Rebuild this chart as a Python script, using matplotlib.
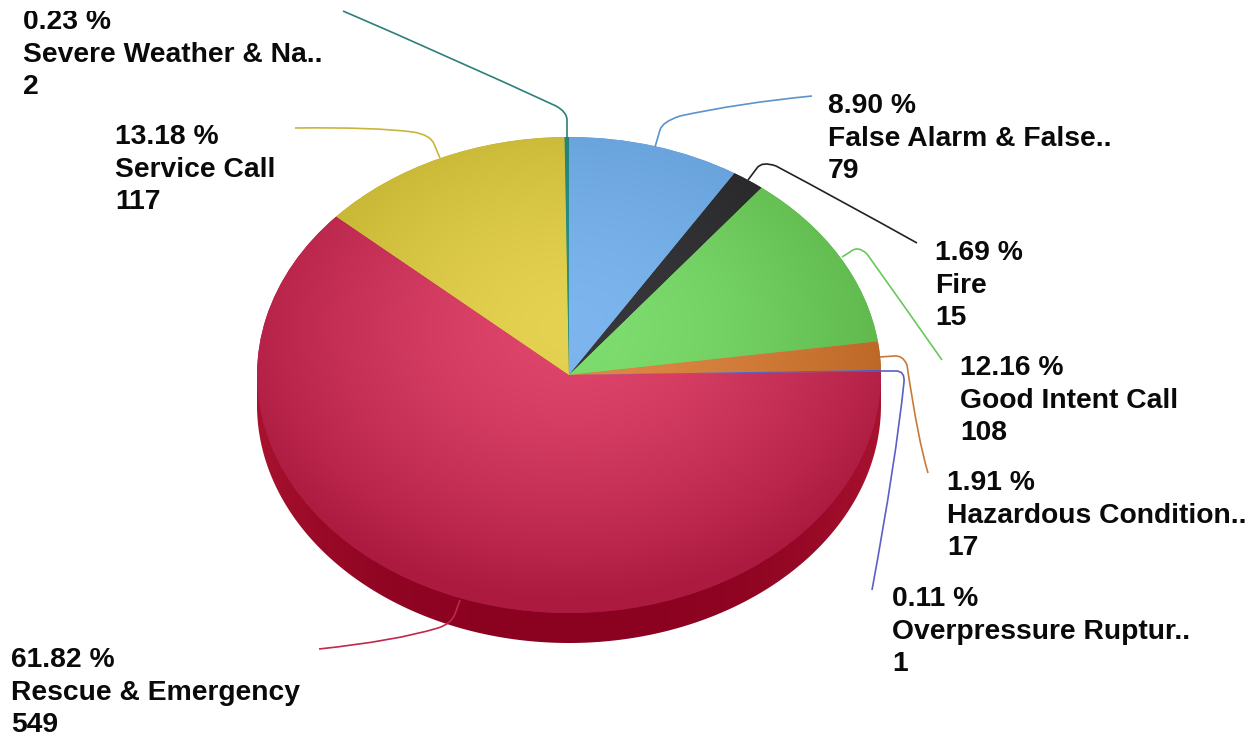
import matplotlib
matplotlib.use("Agg")
import matplotlib.pyplot as plt
import numpy as np
from matplotlib.colors import to_rgb
from matplotlib.patches import PathPatch, Rectangle
from matplotlib.path import Path

# data
names = ["False Alarm & False..", "Fire", "Good Intent Call", "Hazardous Condition..",
         "Overpressure Ruptur..", "Rescue & Emergency", "Service Call", "Severe Weather & Na.."]
counts = [79, 15, 108, 17, 1, 549, 117, 2]

# slice colours, centre then rim
inner_colors = ["#7DB6EE", "#38383C", "#7FDE70", "#E08A46", "#6468D0", "#E0466C", "#E4D250", "#2C9088"]
outer_colors = ["#5E98D0", "#222224", "#58B044", "#B66120", "#5458B8", "#AC1A40", "#BCAA2A", "#1E7A72"]
line_colors = ["#5B93CF", "#222222", "#6CC55E", "#C87A3A", "#5B5FC7", "#C0284F", "#C9B53A", "#2D7F7A"]

W, H = 1256, 736
CX, CY = 569, 375
RX, RY = 312, 238
DEPTH = 30

# where the labels go, in pixels from the top left
label_x = [828, 935, 960, 947, 892, 11, 115, 23]
label_y = [106, 253, 368, 483, 599, 660, 137, 22]
LINE_H = 32.7

# leader lines: start, straight bit, bend control, after bend, control, end
leaders = [
    [(655, 147), (660, 130), (662, 122), (680, 116), (740, 103), (812, 96)],
    [(748, 180), (757, 168), (762, 161), (776, 166), (840, 200), (917, 243)],
    [(842, 257), (850, 252), (858, 245), (867, 254), (900, 300), (942, 360)],
    [(880, 357), (894, 356), (903, 355), (907, 365), (918, 440), (928, 473)],
    [(880, 371), (896, 371), (905, 371), (904, 382), (896, 460), (872, 590)],
    [(460, 600), (455, 614), (451, 624), (438, 628), (395, 641), (319, 649)],
    [(440, 158), (434, 144), (431, 135), (413, 132), (375, 127), (295, 128)],
    [(567, 138), (567, 120), (567, 112), (556, 106), (450, 57), (343, 11)],
]
leader_codes = [Path.MOVETO, Path.LINETO, Path.CURVE3, Path.CURVE3, Path.CURVE3, Path.CURVE3]

fig = plt.figure(figsize=(W / 100, H / 100), dpi=100)
ax = fig.add_axes([0, 0, 1, 1])
ax.set_xlim(0, W)
ax.set_ylim(H, 0)
ax.axis("off")

# side of the pie
t = np.linspace(0, np.pi, 300)
side_x = CX + RX * np.cos(t)
side = ax.fill_between(side_x, CY, CY + RY * np.sin(t) + DEPTH, color="none", lw=0)
gx = np.abs(np.linspace(-1, 1, 400))[None, :, None]
side_img = np.array(to_rgb("#8B0220"))[None, None, :] * (1 - gx ** 3) + np.array(to_rgb("#A8122F"))[None, None, :] * gx ** 3
im = ax.imshow(side_img, extent=(CX - RX, CX + RX, CY + RY + DEPTH, CY), aspect="auto", zorder=1)
im.set_clip_path(side.get_paths()[0], transform=ax.transData)
ax.set_xlim(0, W)
ax.set_ylim(H, 0)

# top of the pie in its own axes, so the circle gets squashed to an ellipse
pie_ax = fig.add_axes([(CX - RX) / W, 1 - (CY + RY) / H, 2 * RX / W, 2 * RY / H])
wedges, _ = pie_ax.pie(counts, startangle=90, counterclock=False, radius=1,
                       colors=outer_colors, wedgeprops={"linewidth": 0})
pie_ax.set_aspect("auto")
pie_ax.patch.set_alpha(0)

# brightest a bit above the pie centre
yy, xx = np.mgrid[1:-1:500j, -1:1:500j]
dist = np.clip(np.sqrt(xx ** 2 + (yy - 0.2) ** 2) / 1.15, 0, 1)[:, :, None]
for w, c0, c1 in zip(wedges, inner_colors, outer_colors):
    img = np.array(to_rgb(c0))[None, None, :] * (1 - dist ** 1.5) + np.array(to_rgb(c1))[None, None, :] * dist ** 1.5
    im = pie_ax.imshow(img, extent=(-1, 1, -1, 1), aspect="auto", zorder=2)
    im.set_clip_path(w)
pie_ax.set_xlim(-1, 1)
pie_ax.set_ylim(-1, 1)

# leaders and labels go on top of everything
top_ax = fig.add_axes([0, 0, 1, 1])
top_ax.set_xlim(0, W)
top_ax.set_ylim(H, 0)
top_ax.axis("off")
top_ax.patch.set_alpha(0)
keep = Rectangle((0, 11), W, H - 11, transform=top_ax.transData)

for pts, col in zip(leaders, line_colors):
    top_ax.add_patch(PathPatch(Path(pts, leader_codes), fc="none", ec=col, lw=1.2))

total = sum(counts)
for i in range(len(counts)):
    lines = ["%.2f %%" % (counts[i] * 100 / total), names[i], str(counts[i])]
    for j, s in enumerate(lines):
        txt = top_ax.text(label_x[i], label_y[i] + j * LINE_H, s, fontsize=20.3, fontweight="bold",
                          family="Liberation Sans", color="#0a0a0a", va="center", ha="left")
        txt.set_clip_on(True)
        txt.set_clip_path(keep)

fig.savefig("out.png", dpi=100)
